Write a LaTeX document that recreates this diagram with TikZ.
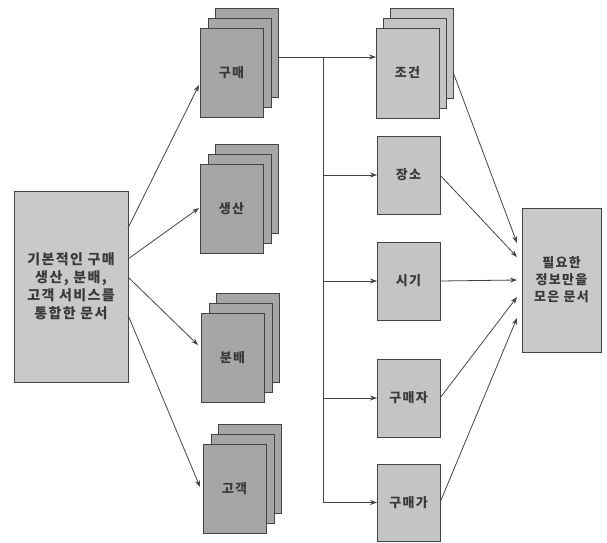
\documentclass[tikz,border=0pt]{standalone}
\usepackage{fontspec}
\setmainfont{Noto Sans CJK KR}[LetterSpace=10]
\usetikzlibrary{calc,arrows.meta}
\definecolor{linec}{HTML}{444444}
\definecolor{txt}{HTML}{3A3A3A}
\definecolor{dkfill}{HTML}{A6A6A6}
\definecolor{ltfill}{HTML}{C4C4C4}
\definecolor{bgfill}{HTML}{C9C9C9}
\begin{document}
\begin{tikzpicture}[x=1pt,y=-1pt,
  box/.style={draw=linec, line width=0.9pt, inner sep=0pt, outer sep=0pt, anchor=north west, font=\fontsize{13}{17}\selectfont\bfseries, text=txt, align=center},
  dk/.style={box, fill=dkfill, minimum width=63pt, minimum height=89pt},
  dkl/.style={box, fill=ltfill, minimum width=63pt, minimum height=90pt},
  lt/.style={box, fill=ltfill, minimum width=63pt, minimum height=78pt},
  arr/.style={draw=linec, line width=0.8pt, -{Stealth[length=7pt,width=5pt]}},
  ln/.style={draw=linec, line width=0.8pt}]
\useasboundingbox (0,0) rectangle (607,542);

% left box
\node[box, fill=bgfill, minimum width=114pt, minimum height=191pt, font=\fontsize{14}{18}\selectfont\bfseries] (L) at (14,191) {기본적인 구매\\생산, 분배,\\고객 서비스를\\통합한 문서};

% stacks
\node[dk] (pk3) at (215,8) {}; \node[dk] (pk2) at (208,18) {}; \node[dk] (pk) at (200,28) {구매};
\node[dk] (ps3) at (215,144) {}; \node[dk] (ps2) at (208,154) {}; \node[dk] (ps) at (200,164) {생산};
\node[dk] (pb3) at (216,293) {}; \node[dk] (pb2) at (209,303) {}; \node[dk] (pb) at (201,313) {분배};
\node[dk] (pg3) at (218,424) {}; \node[dk] (pg2) at (211,434) {}; \node[dk] (pg) at (203,444) {고객};

% right column
\node[dkl] (c3) at (390,8) {}; \node[dkl] (c2) at (383,18) {}; \node[dkl] (c1) at (376,28) {조건};
\node[lt] (jang) at (377,136) {장소};
\node[lt] (sigi) at (377,242) {시기};
\node[lt] (gmj) at (377,359) {구매자};
\node[lt, minimum height=77pt] (gmg) at (377,464) {구매가};

% result box
\node[box, fill=bgfill, minimum width=79pt, minimum height=144pt] (R) at (522,208) {필요한\\정보만을\\모은 문서};

% left arrows
\draw[arr] ($(L.north east)+(0,37)$) -- ($(pk.north west)+(-1,57)$);
\draw[arr] ($(L.north east)+(0,68)$) -- ($(ps.north west)+(-1,44)$);
\draw[arr] ($(L.north east)+(0,86)$) -- ($(pb.north west)+(-3,32)$);
\draw[arr] ($(L.north east)+(0,124)$) -- ($(pg.north west)+(-3,43)$);

% distribution
\coordinate (J) at (323,57);
\draw[arr] ($(pk3.north east)+(0,49)$) -- ($(c1.north west)+(0,29)$);
\draw[ln] (J) -- (J |- gmg.west);
\draw[arr] (J |- jang.west) -- (jang.west);
\draw[arr] (J |- sigi.west) -- (sigi.west);
\draw[arr] (J |- gmj.west) -- (gmj.west);
\draw[arr] (J |- gmg.west) -- (gmg.west);

% convergence
\draw[arr] ($(c3.north east)+(0,64)$) -- ($(R.north west)+(-5,35)$);
\draw[arr] (jang.east) -- ($(R.north west)+(-5,49)$);
\draw[arr] (sigi.east) -- ($(R.north west)+(-5,72)$);
\draw[arr] (gmj.east) -- ($(R.north west)+(-5,89)$);
\draw[arr] (gmg.east) -- ($(R.north west)+(-5,110)$);
\end{tikzpicture}
\end{document}
